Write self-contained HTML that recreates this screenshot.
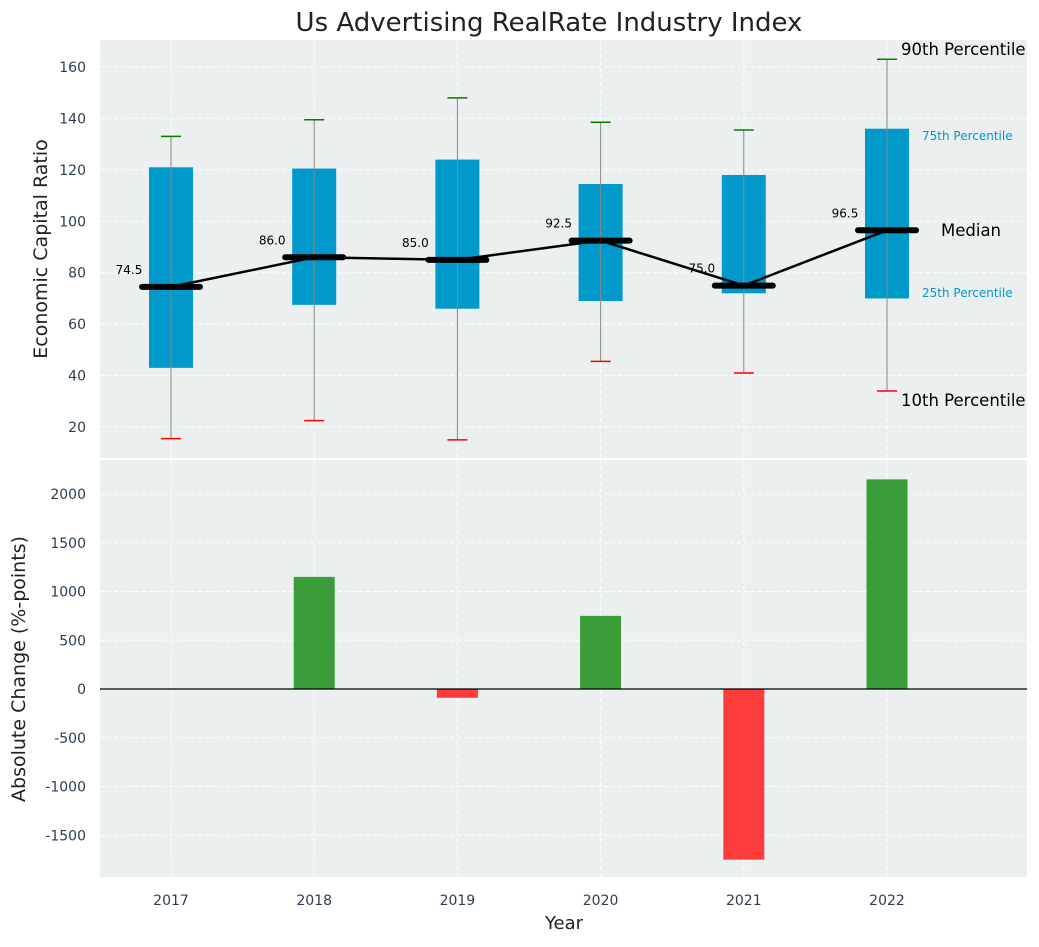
<!DOCTYPE html>
<html><head><meta charset="utf-8"><style>
body{margin:0;background:#fff;font-family:"Liberation Sans","DejaVu Sans",sans-serif;}
</style></head><body>
<svg id="chart" width="1039" height="942" xmlns="http://www.w3.org/2000/svg" font-family="DejaVu Sans, Liberation Sans, sans-serif"></svg>
<script>
const years=[2017,2018,2019,2020,2021,2022];
const p10=[15.5,22.5,15,45.5,41,34];
const p25=[43,67.5,66,69,72,70];
const medians=[74.5,86,85,92.5,75,96.5];
const p75=[121,120.5,124,114.5,118,136];
const p90=[133,139.5,148,138.5,135.5,163];
const changes=[0,1150,-90,750,-1750,2150];
const topTicks=[20,40,60,80,100,120,140,160];
const botTicks=[-1500,-1000,-500,0,500,1000,1500,2000];

const svg=document.getElementById('chart');
const NS='http://www.w3.org/2000/svg';
function mk(tag,attrs,parent,text){const e=document.createElementNS(NS,tag);for(const k in attrs)e.setAttribute(k,attrs[k]);if(text!==undefined)e.textContent=text;(parent||svg).appendChild(e);return e;}
const X=i=>171+i*143.2;
const Yt=v=>427-(v-20)*2.5714;
const Yb=v=>689-v*0.0975;
const L=100,R=1027;

let e=mk('rect',{x:L,y:40,width:R-L,height:418,fill:'#ebefef'});


e=mk('rect',{x:L,y:460,width:R-L,height:417,fill:'#ebefef'});



topTicks.forEach(t=>{
 mk('line',{x1:L,x2:R,y1:Yt(t),y2:Yt(t),stroke:'#fff','stroke-dasharray':'4,3'});
 e=mk('text',{x:86,y:Yt(t)+5,'text-anchor':'end','font-size':14,fill:'#2c3e50'},svg,t);
 
 
});
botTicks.forEach(t=>{
 mk('line',{x1:L,x2:R,y1:Yb(t),y2:Yb(t),stroke:'#fff','stroke-dasharray':'4,3'});
 e=mk('text',{x:86,y:Yb(t)+5,'text-anchor':'end','font-size':14,fill:'#2c3e50'},svg,t);
 
 
});
years.forEach((y,i)=>{
 mk('line',{x1:X(i),x2:X(i),y1:40,y2:458,stroke:'#fff','stroke-dasharray':'4,3'});
 mk('line',{x1:X(i),x2:X(i),y1:460,y2:877,stroke:'#fff','stroke-dasharray':'4,3'});
 e=mk('text',{x:X(i),y:905,'text-anchor':'middle','font-size':14,fill:'#2c3e50'},svg,y);
 
 
});

years.forEach((y,i)=>{
 const x=X(i);
 e=mk('rect',{x:x-22,y:Yt(p75[i]),width:44,height:Yt(p25[i])-Yt(p75[i]),fill:'#0099cc'});
 
 
 mk('line',{x1:x,x2:x,y1:Yt(p90[i]),y2:Yt(p10[i]),stroke:'#888','stroke-width':1});
 mk('line',{x1:x-10,x2:x+10,y1:Yt(p90[i]),y2:Yt(p90[i]),stroke:'green','stroke-width':1.5});
 mk('line',{x1:x-10,x2:x+10,y1:Yt(p10[i]),y2:Yt(p10[i]),stroke:'red','stroke-width':1.5});
});
let pts=years.map((y,i)=>X(i)+','+Yt(medians[i])).join(' ');
e=mk('polyline',{points:pts,fill:'none',stroke:'#000','stroke-width':2.5});


years.forEach((y,i)=>{
 e=mk('line',{x1:X(i)-29,x2:X(i)+29,y1:Yt(medians[i]),y2:Yt(medians[i]),stroke:'#000','stroke-width':6,'stroke-linecap':'round'});
 
 
 e=mk('text',{x:X(i)-42,y:Yt(medians[i])-13,'text-anchor':'middle','font-size':12,fill:'#000'},svg,medians[i].toFixed(1));
 
 
});
const ann=[[901,55,'90th Percentile',16.5,'#000'],[922,140,'75th Percentile',12,'#0099cc'],[941,236,'Median',16.5,'#000'],[922,297,'25th Percentile',12,'#0099cc'],[901,406,'10th Percentile',16.5,'#000']];
ann.forEach(a=>{e=mk('text',{x:a[0],y:a[1],'font-size':a[3],fill:a[4]},svg,a[2]);
 
 });

years.forEach((y,i)=>{
 const v=changes[i];
 e=mk('rect',{x:X(i)-20.5,y:Math.min(Yb(v),Yb(0)),width:41,height:Math.abs(Yb(v)-Yb(0)),fill:v>=0?'#3a9d3a':'#ff3c3c'});
 
 
});
mk('line',{x1:L,x2:R,y1:Yb(0),y2:Yb(0),stroke:'#000','stroke-width':1.2});

e=mk('text',{x:549,y:31,'text-anchor':'middle','font-size':26,fill:'#222'},svg,'Us Advertising RealRate Industry Index');


e=mk('text',{x:47,y:249,'text-anchor':'middle','font-size':19,fill:'#222',transform:'rotate(-90 47 249)'},svg,'Economic Capital Ratio');


e=mk('text',{x:25,y:669,'text-anchor':'middle','font-size':19,fill:'#222',transform:'rotate(-90 25 669)'},svg,'Absolute Change (%-points)');


e=mk('text',{x:564,y:929,'text-anchor':'middle','font-size':18,fill:'#222'},svg,'Year');


</script>
</body></html>
